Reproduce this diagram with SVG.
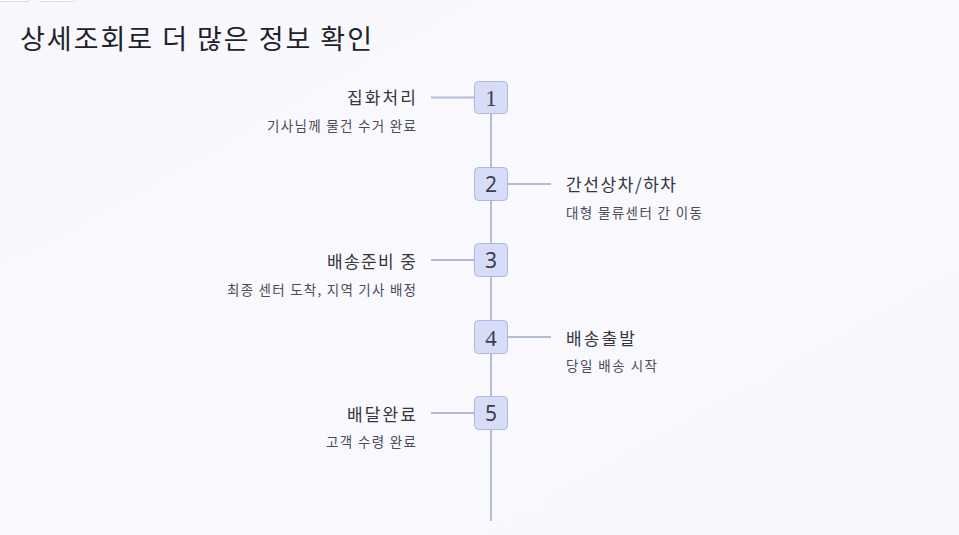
<svg xmlns="http://www.w3.org/2000/svg" width="959" height="535" viewBox="0 0 959 535">
<defs>
<linearGradient id="bg" x1="0" y1="0" x2="1" y2="1">
<stop offset="0" stop-color="#f7f7fc"/>
<stop offset="0.5" stop-color="#f9f9fe"/>
<stop offset="1" stop-color="#f7f8fd"/>
</linearGradient>
<style>
.title{font-family:"Noto Sans CJK KR","Noto Sans",sans-serif;font-size:27px;fill:#1f222b}
.lbl{font-family:"Noto Sans CJK KR","Noto Sans",sans-serif;font-size:17px;fill:#33363f}
.sub{font-family:"Noto Sans CJK KR","Noto Sans",sans-serif;font-size:13.5px;fill:#4a4d57}
.box{fill:#d7ddf7;stroke:#adb7e2;stroke-width:1}
.num{font-family:"Noto Sans","DejaVu Sans",sans-serif;font-size:21px;fill:#3b3f52;text-anchor:middle}
.nums{font-family:"Liberation Serif","DejaVu Serif",serif;font-size:23px;fill:#3b3f52;text-anchor:middle}
.ln{stroke:#b3bbdc;stroke-width:2;fill:none}
.btn{fill:#ffffff;stroke:#d9dbe3;stroke-width:1}
</style>
</defs>
<rect width="959" height="535" fill="url(#bg)"/>
<rect class="btn" x="-1" y="-20" width="31" height="21.5" rx="3"/>
<rect class="btn" x="39" y="-20" width="37" height="21.5" rx="3"/>
<text class="title" x="20" y="49" textLength="352" lengthAdjust="spacing">상세조회로 더 많은 정보 확인</text>
<g id="connectors">
<line class="ln" x1="491" y1="114" x2="491" y2="521"/>
<line class="ln" x1="431" y1="97.5" x2="474" y2="97.5"/>
<line class="ln" x1="508" y1="184" x2="551" y2="184"/>
<line class="ln" x1="431" y1="260" x2="474" y2="260"/>
<line class="ln" x1="508" y1="337" x2="551" y2="337"/>
<line class="ln" x1="431" y1="413" x2="474" y2="413"/>
</g>
<g id="step1">
<rect class="box" x="474.5" y="81.5" width="33" height="32" rx="4"/>
<text class="nums" x="491" y="105.5">1</text>
<text class="lbl" x="416" y="104" text-anchor="end" textLength="69" lengthAdjust="spacing">집화처리</text>
<text class="sub" x="416" y="131" text-anchor="end" textLength="149" lengthAdjust="spacing">기사님께 물건 수거 완료</text>
</g>
<g id="step2">
<rect class="box" x="474.5" y="167.5" width="33" height="33" rx="4"/>
<text class="num" x="491" y="191.5">2</text>
<text class="lbl" x="566" y="191" textLength="110" lengthAdjust="spacing">간선상차/하차</text>
<text class="sub" x="566" y="218" textLength="136" lengthAdjust="spacing">대형 물류센터 간 이동</text>
</g>
<g id="step3">
<rect class="box" x="474.5" y="243.5" width="33" height="33" rx="4"/>
<text class="num" x="491" y="267.5">3</text>
<text class="lbl" x="416" y="268" text-anchor="end" textLength="89" lengthAdjust="spacing">배송준비 중</text>
<text class="sub" x="416" y="295" text-anchor="end" textLength="189" lengthAdjust="spacing">최종 센터 도착, 지역 기사 배정</text>
</g>
<g id="step4">
<rect class="box" x="474.5" y="320.5" width="33" height="33" rx="4"/>
<text class="nums" x="491" y="345.5">4</text>
<text class="lbl" x="566" y="345" textLength="69" lengthAdjust="spacing">배송출발</text>
<text class="sub" x="566" y="371" textLength="91" lengthAdjust="spacing">당일 배송 시작</text>
</g>
<g id="step5">
<rect class="box" x="474.5" y="396.5" width="33" height="33" rx="4"/>
<text class="num" x="491" y="420.5">5</text>
<text class="lbl" x="416" y="421" text-anchor="end" textLength="69" lengthAdjust="spacing">배달완료</text>
<text class="sub" x="416" y="447" text-anchor="end" textLength="90" lengthAdjust="spacing">고객 수령 완료</text>
</g>
</svg>
